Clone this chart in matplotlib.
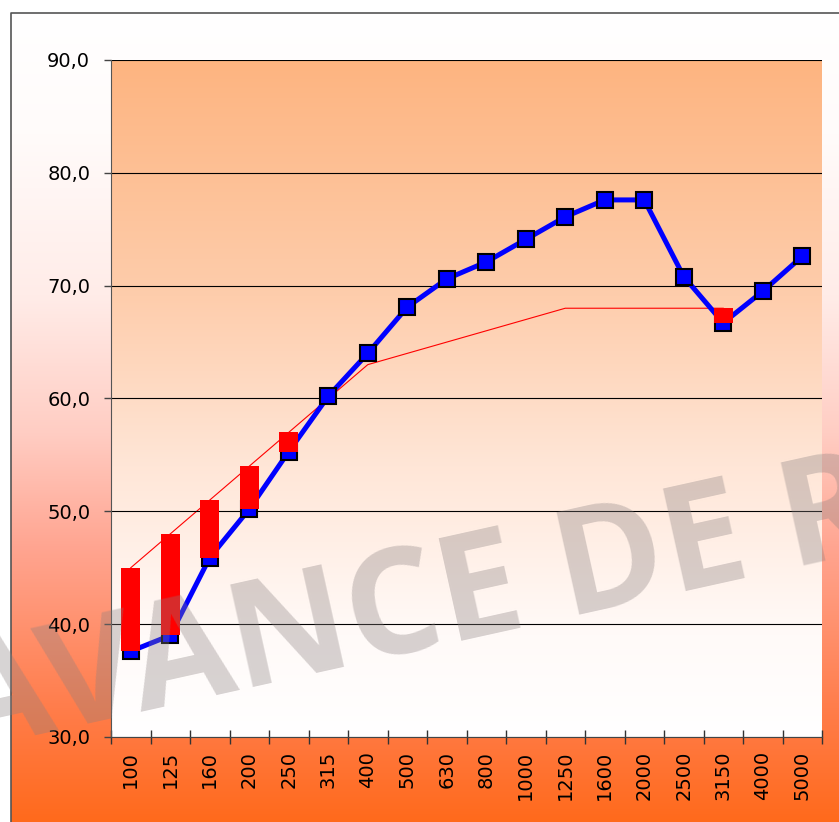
import matplotlib
matplotlib.use("Agg")
import matplotlib.pyplot as plt
import numpy as np

# data
freqs = ['100', '125', '160', '200', '250', '315', '400', '500', '630', '800',
         '1000', '1250', '1600', '2000', '2500', '3150', '4000', '5000']
measured = [37.6, 39.0, 45.9, 50.2, 55.3, 60.2, 64.0, 68.1, 70.6, 72.1,
            74.1, 76.1, 77.6, 77.6, 70.8, 66.7, 69.5, 72.6]
# shifted reference curve, 100 .. 3150 Hz
reference = [45, 48, 51, 54, 57, 60, 63, 64, 65, 66, 67, 68, 68, 68, 68, 68]
yticks = [30, 40, 50, 60, 70, 80, 90]
watermark = 'AVANCE DE RESULTADOS'

W, H = 839, 822
fig = plt.figure(figsize=(W / 100, H / 100), dpi=100)
fig.patch.set_facecolor('white')


def gradient(stops, n=300):
    # stops: list of (pos, (r, g, b)) from top to bottom
    pos = np.array([s[0] for s in stops])
    cols = np.array([s[1] for s in stops], dtype=float) / 255
    t = np.linspace(0, 1, n)
    rgb = np.stack([np.interp(t, pos, cols[:, i]) for i in range(3)], axis=1)
    return rgb[:, None, :]


# background of the whole chart with its frame
bg = fig.add_axes([0, 0, 1, 1], zorder=-1)
bg.axis('off')
fx0 = 11 / W
fy1 = 1 - 13 / H
bg_grad = gradient([(0.0, (255, 255, 255)), (0.15, (255, 251, 250)), (0.35, (255, 236, 232)),
                    (0.52, (255, 205, 195)), (0.66, (255, 165, 145)), (0.86, (255, 125, 75)),
                    (1.0, (255, 106, 28))])
bg.imshow(bg_grad, extent=[fx0, 1, 0, fy1], aspect='auto', zorder=0)
bg.plot([fx0, fx0, 1], [0, fy1, fy1], color='#555555', lw=1.2, zorder=1)
bg.set_xlim(0, 1)
bg.set_ylim(0, 1)

ax = fig.add_axes([111 / W, 1 - 737 / H, 711 / W, 677 / H])
ax.set_facecolor('none')
plot_grad = gradient([(0.0, (253, 180, 128)), (0.35, (254, 205, 172)), (0.6, (255, 230, 215)),
                      (0.85, (255, 250, 248)), (1.0, (255, 255, 255))])
n = len(freqs)
ax.imshow(plot_grad, extent=[-0.5, n - 0.5, 30, 90], aspect='auto', zorder=0)

x = np.arange(n)
meas = np.array(measured)
ref = np.array(reference)
xr = x[:len(ref)]

ax.plot(xr, ref, color='red', lw=0.8, zorder=2)
ax.plot(x, meas, color='#0000ff', lw=3.6, marker='s', markersize=11.5,
        markerfacecolor='#0000ff', markeredgecolor='black', markeredgewidth=1.5, zorder=3)

# unfavourable deviations drawn as red bars
mask = ref > meas[:len(ref)]
ax.bar(xr[mask], (ref - meas[:len(ref)])[mask], bottom=meas[:len(ref)][mask],
       width=0.48, color='red', zorder=4)

ax.set_xlim(-0.5, n - 0.5)
ax.set_ylim(30, 90)
ax.set_yticks(yticks)
ax.set_yticklabels([f'{v:.1f}'.replace('.', ',') for v in yticks], fontsize=14)
ax.yaxis.grid(True, color='black', lw=0.8, zorder=1)
ax.set_axisbelow(False)
ax.tick_params(axis='y', direction='out', length=5, width=1, color='#444444', pad=10)

ax.set_xticks(x)
ax.set_xticklabels(freqs, rotation=90, fontsize=14)
ax.set_xticks(np.arange(-0.5, n, 1), minor=True)
ax.tick_params(axis='x', which='major', length=0, pad=10)
ax.tick_params(axis='x', which='minor', direction='inout', length=9.5, width=1, color='#333333')

for s in ['top', 'right']:
    ax.spines[s].set_visible(False)
ax.spines['left'].set_color('#555555')
ax.spines['bottom'].set_color('#444444')
ax.spines['left'].set_zorder(5)
ax.spines['bottom'].set_zorder(5)

fig.text(-40 / W, 1 - 752 / H, watermark, fontsize=106, family=['Open Sans', 'DejaVu Sans'],
         weight='bold', color='#8a8080', alpha=0.34, rotation=12.5, rotation_mode='anchor',
         ha='left', va='baseline', zorder=10)

fig.savefig('out.png', dpi=100)
